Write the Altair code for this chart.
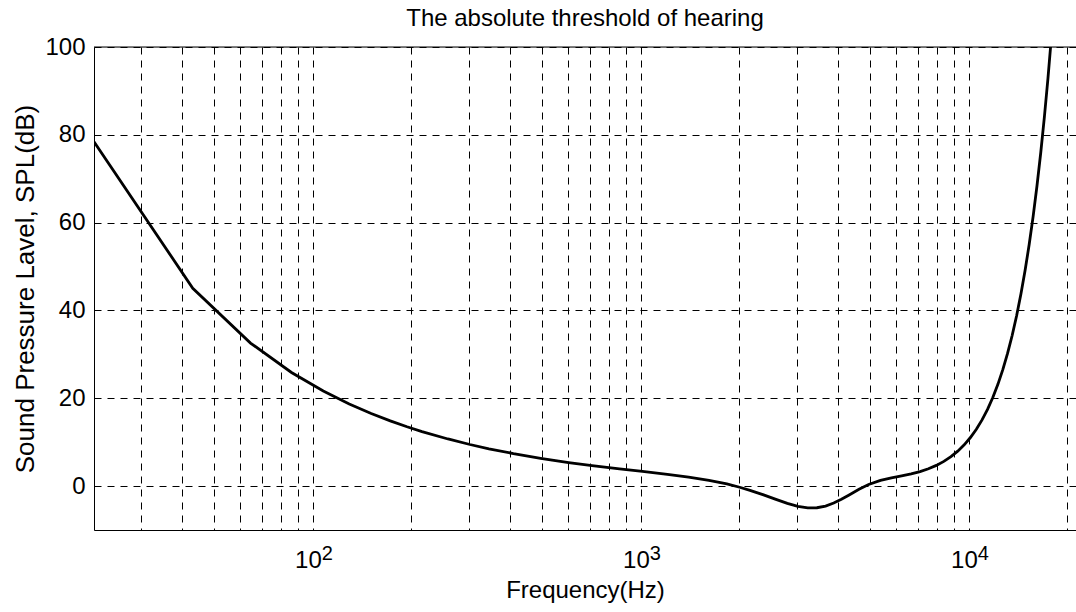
import altair as alt
import pandas as pd

# ---- data (frequency in Hz, threshold in dB SPL) ----
freq_hz = [21.53, 43.07, 64.60, 86.13, 107.67, 129.2, 150.7, 172.3, 193.8, 215.3,
           258.4, 301.4, 344.5, 409.1, 495.2, 602.8, 710.5, 861.3, 1011.9, 1205.7,
           1399.5, 1614.8, 1830.1, 2002.3, 2153.3, 2368.3, 2583.6, 2798.9, 3014.2, 3229.5,
           3337.2, 3444.8, 3660.1, 3875.4, 4090.7, 4306.0, 4629.0, 4952.0, 5382.5, 5813.0,
           6243.7, 6674.3, 7105.0, 7535.5, 7966.1, 8396.6, 8827.3, 9257.9, 9688.5, 10119,
           10550, 10980, 11411, 11842, 12272, 12703, 13133, 13564, 13995, 14425,
           14856, 15286, 15717, 16148, 16578, 17009, 17440, 17870, 18301]
spl_db = [78.44, 45.05, 32.57, 25.87, 21.64, 18.70, 16.53, 14.85, 13.51, 12.42,
          10.73, 9.47, 8.50, 7.40, 6.33, 5.37, 4.67, 3.92, 3.33, 2.67,
          2.04, 1.30, 0.48, -0.26, -0.96, -2.00, -3.03, -3.93, -4.60, -4.95,
          -4.98, -4.93, -4.54, -3.87, -3.01, -2.07, -0.73, 0.35, 1.30, 1.88,
          2.32, 2.77, 3.31, 3.95, 4.72, 5.63, 6.71, 7.96, 9.40, 11.06,
          12.94, 15.07, 17.47, 20.17, 23.17, 26.52, 30.21, 34.30, 38.80, 43.73,
          49.13, 55.01, 61.42, 68.39, 75.92, 84.08, 92.88, 102.34, 112.54]

x_grid = [30, 40, 50, 60, 70, 80, 90, 100,
          200, 300, 400, 500, 600, 700, 800, 900, 1000,
          2000, 3000, 4000, 5000, 6000, 7000, 8000, 9000, 10000, 20000]
y_ticks = [0, 20, 40, 60, 80, 100]
decades = [100, 1000, 10000]
bases = ["10", "10", "10"]
exponents = ["2", "3", "4"]

title_text = "The absolute threshold of hearing"
x_title = "Frequency(Hz)"
y_title = "Sound Pressure Lavel, SPL(dB)"

FONT = "Liberation Sans"

df = pd.DataFrame({"freq": freq_hz, "spl": spl_db})
lab_df = pd.DataFrame({"freq": decades, "base": bases, "exp": exponents})
top_df = pd.DataFrame({"y": [100]})

x_scale = alt.Scale(type="log", domain=[21.53, 21235], nice=False)
y_scale = alt.Scale(domain=[-10, 100], nice=False)

x_axis = alt.Axis(
    values=x_grid,
    labels=False,
    ticks=False,
    grid=True, gridColor="black", gridDash=[7, 6], gridWidth=1, gridOpacity=1,
    domainColor="black", domainWidth=1,
    title=x_title, titleFontSize=24, titleFont=FONT, titleFontWeight="normal",
    titleColor="black", titleY=67, titleBaseline="alphabetic",
)
y_axis = alt.Axis(
    values=y_ticks,
    labelFontSize=24, labelFont=FONT, labelColor="black",
    labelPadding=9, labelFlush=False, labelOverlap=False,
    ticks=False,
    grid=True, gridColor="black", gridDash=[7, 6], gridWidth=1, gridOpacity=1,
    domainColor="black", domainWidth=1,
    title=y_title, titleFontSize=26, titleFont=FONT, titleFontWeight="normal",
    titleColor="black", titleX=-61, titleY=241.5, titleAngle=-90,
    titleBaseline="alphabetic", titleAlign="center",
)

line = alt.Chart(df).mark_line(color="black", strokeWidth=2.8, clip=True).encode(
    x=alt.X("freq:Q", scale=x_scale, axis=x_axis),
    y=alt.Y("spl:Q", scale=y_scale, axis=y_axis),
)

top_border = alt.Chart(top_df).mark_rule(color="black", strokeWidth=1).encode(
    y=alt.Y("y:Q", scale=y_scale),
)

base_text = alt.Chart(lab_df).mark_text(
    align="right", baseline="alphabetic", dx=9, dy=38, fontSize=24, font=FONT, color="black"
).encode(
    x=alt.X("freq:Q", scale=x_scale),
    y=alt.datum(-10),
    text="base:N",
)

exp_text = alt.Chart(lab_df).mark_text(
    align="left", baseline="alphabetic", dx=9, dy=30, fontSize=20, font=FONT, color="black"
).encode(
    x=alt.X("freq:Q", scale=x_scale),
    y=alt.datum(-10),
    text="exp:N",
)

chart = alt.layer(top_border, line, base_text, exp_text).properties(
    width=982,
    height=483,
    autosize="none",
    padding={"left": 94, "top": 47, "right": 0, "bottom": 82},
    title=alt.Title(title_text, fontSize=24, font=FONT, fontWeight="normal",
                    color="black", anchor="middle", offset=4),
).configure_view(stroke=None).configure(background="white")

chart.save("out.html", embed_options={"renderer": "svg", "actions": False})
